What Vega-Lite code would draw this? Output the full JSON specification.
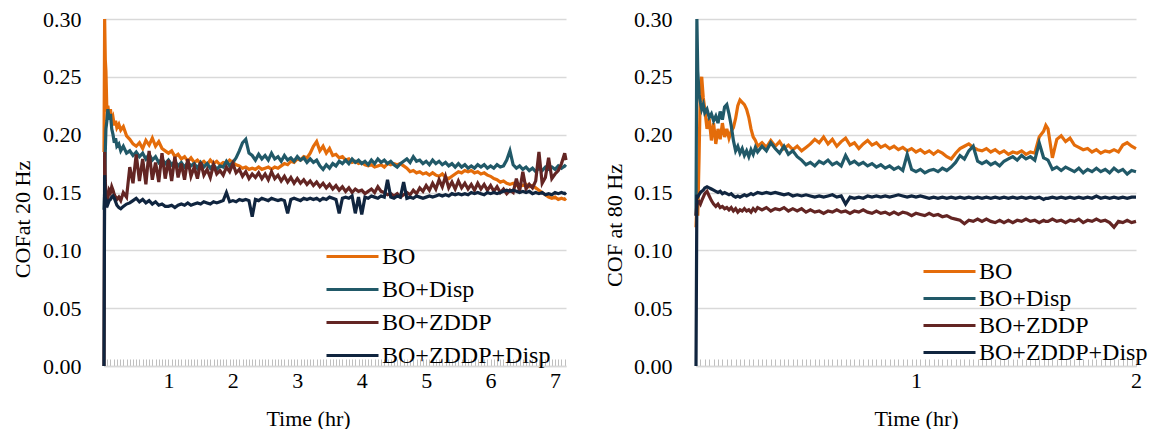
{
  "$schema": "https://vega.github.io/schema/vega-lite/v6.json",
  "padding": {"left": 11, "top": 8, "right": 0, "bottom": 0},
  "spacing": 30,
  "resolve": {"scale": {"color": "independent"}, "legend": {"color": "independent"}},
  "config": {
    "font": "Times New Roman, Liberation Serif, serif",
    "view": {"stroke": null},
    "axis": {
      "labelFont": "Times New Roman, Liberation Serif, serif",
      "titleFont": "Times New Roman, Liberation Serif, serif",
      "labelColor": "#000000",
      "titleColor": "#000000",
      "labelFontSize": 22,
      "titleFontSize": 22,
      "titleFontWeight": "normal"
    },
    "legend": {
      "labelFont": "Times New Roman, Liberation Serif, serif",
      "labelColor": "#000000",
      "labelFontSize": 24,
      "labelLimit": 400,
      "symbolType": "M-2,0H2",
      "symbolSize": 676,
      "symbolStrokeWidth": 3,
      "symbolOffset": 11,
      "labelOffset": 15,
      "padding": 0
    }
  },
  "datasets": {
    "hz20": [
      {"t": 0, "BO": 0.185, "BO+Disp": 0.135, "BO+ZDDP": 0.0, "BO+ZDDP+Disp": 0.0},
      {"t": 0.01, "BO": 0.300, "BO+Disp": 0.150, "BO+ZDDP": 0.185, "BO+ZDDP+Disp": 0.165},
      {"t": 0.02, "BO": 0.265, "BO+Disp": 0.185, "BO+ZDDP": 0.160, "BO+ZDDP+Disp": 0.140},
      {"t": 0.03, "BO": 0.255, "BO+Disp": 0.205, "BO+ZDDP": 0.150, "BO+ZDDP+Disp": 0.137},
      {"t": 0.045, "BO": 0.220, "BO+Disp": 0.212, "BO+ZDDP": 0.147, "BO+ZDDP+Disp": 0.142},
      {"t": 0.06, "BO": 0.225, "BO+Disp": 0.222, "BO+ZDDP": 0.145, "BO+ZDDP+Disp": 0.140},
      {"t": 0.08, "BO": 0.215, "BO+Disp": 0.213, "BO+ZDDP": 0.152, "BO+ZDDP+Disp": 0.143},
      {"t": 0.10, "BO": 0.222, "BO+Disp": 0.218, "BO+ZDDP": 0.150, "BO+ZDDP+Disp": 0.144},
      {"t": 0.12, "BO": 0.212, "BO+Disp": 0.205, "BO+ZDDP": 0.155, "BO+ZDDP+Disp": 0.146},
      {"t": 0.14, "BO": 0.215, "BO+Disp": 0.200, "BO+ZDDP": 0.152, "BO+ZDDP+Disp": 0.147},
      {"t": 0.16, "BO": 0.208, "BO+Disp": 0.193, "BO+ZDDP": 0.148, "BO+ZDDP+Disp": 0.145},
      {"t": 0.18, "BO": 0.212, "BO+Disp": 0.197, "BO+ZDDP": 0.146, "BO+ZDDP+Disp": 0.142},
      {"t": 0.20, "BO": 0.206, "BO+Disp": 0.190, "BO+ZDDP": 0.144, "BO+ZDDP+Disp": 0.139},
      {"t": 0.23, "BO": 0.209, "BO+Disp": 0.192, "BO+ZDDP": 0.146, "BO+ZDDP+Disp": 0.137},
      {"t": 0.26, "BO": 0.204, "BO+Disp": 0.186, "BO+ZDDP": 0.143, "BO+ZDDP+Disp": 0.136},
      {"t": 0.30, "BO": 0.207, "BO+Disp": 0.190, "BO+ZDDP": 0.150, "BO+ZDDP+Disp": 0.138},
      {"t": 0.35, "BO": 0.199, "BO+Disp": 0.184, "BO+ZDDP": 0.146, "BO+ZDDP+Disp": 0.140},
      {"t": 0.40, "BO": 0.196, "BO+Disp": 0.186, "BO+ZDDP": 0.172, "BO+ZDDP+Disp": 0.141},
      {"t": 0.45, "BO": 0.192, "BO+Disp": 0.182, "BO+ZDDP": 0.158, "BO+ZDDP+Disp": 0.143},
      {"t": 0.50, "BO": 0.190, "BO+Disp": 0.185, "BO+ZDDP": 0.183, "BO+ZDDP+Disp": 0.145},
      {"t": 0.55, "BO": 0.193, "BO+Disp": 0.181, "BO+ZDDP": 0.160, "BO+ZDDP+Disp": 0.142},
      {"t": 0.60, "BO": 0.188, "BO+Disp": 0.184, "BO+ZDDP": 0.179, "BO+ZDDP+Disp": 0.144},
      {"t": 0.65, "BO": 0.195, "BO+Disp": 0.179, "BO+ZDDP": 0.157, "BO+ZDDP+Disp": 0.141},
      {"t": 0.70, "BO": 0.191, "BO+Disp": 0.183, "BO+ZDDP": 0.186, "BO+ZDDP+Disp": 0.143},
      {"t": 0.75, "BO": 0.197, "BO+Disp": 0.178, "BO+ZDDP": 0.161, "BO+ZDDP+Disp": 0.140},
      {"t": 0.80, "BO": 0.190, "BO+Disp": 0.181, "BO+ZDDP": 0.176, "BO+ZDDP+Disp": 0.142},
      {"t": 0.85, "BO": 0.194, "BO+Disp": 0.176, "BO+ZDDP": 0.159, "BO+ZDDP+Disp": 0.139},
      {"t": 0.90, "BO": 0.188, "BO+Disp": 0.179, "BO+ZDDP": 0.184, "BO+ZDDP+Disp": 0.140},
      {"t": 0.95, "BO": 0.186, "BO+Disp": 0.175, "BO+ZDDP": 0.162, "BO+ZDDP+Disp": 0.138},
      {"t": 1.00, "BO": 0.184, "BO+Disp": 0.178, "BO+ZDDP": 0.178, "BO+ZDDP+Disp": 0.138},
      {"t": 1.05, "BO": 0.186, "BO+Disp": 0.174, "BO+ZDDP": 0.160, "BO+ZDDP+Disp": 0.139},
      {"t": 1.10, "BO": 0.181, "BO+Disp": 0.177, "BO+ZDDP": 0.181, "BO+ZDDP+Disp": 0.137},
      {"t": 1.15, "BO": 0.183, "BO+Disp": 0.173, "BO+ZDDP": 0.163, "BO+ZDDP+Disp": 0.139},
      {"t": 1.20, "BO": 0.179, "BO+Disp": 0.176, "BO+ZDDP": 0.175, "BO+ZDDP+Disp": 0.140},
      {"t": 1.25, "BO": 0.181, "BO+Disp": 0.172, "BO+ZDDP": 0.161, "BO+ZDDP+Disp": 0.139},
      {"t": 1.30, "BO": 0.177, "BO+Disp": 0.176, "BO+ZDDP": 0.179, "BO+ZDDP+Disp": 0.141},
      {"t": 1.35, "BO": 0.180, "BO+Disp": 0.173, "BO+ZDDP": 0.164, "BO+ZDDP+Disp": 0.139},
      {"t": 1.40, "BO": 0.176, "BO+Disp": 0.175, "BO+ZDDP": 0.172, "BO+ZDDP+Disp": 0.140},
      {"t": 1.45, "BO": 0.178, "BO+Disp": 0.171, "BO+ZDDP": 0.162, "BO+ZDDP+Disp": 0.141},
      {"t": 1.50, "BO": 0.175, "BO+Disp": 0.176, "BO+ZDDP": 0.176, "BO+ZDDP+Disp": 0.140},
      {"t": 1.55, "BO": 0.177, "BO+Disp": 0.172, "BO+ZDDP": 0.165, "BO+ZDDP+Disp": 0.142},
      {"t": 1.60, "BO": 0.174, "BO+Disp": 0.175, "BO+ZDDP": 0.170, "BO+ZDDP+Disp": 0.141},
      {"t": 1.65, "BO": 0.178, "BO+Disp": 0.171, "BO+ZDDP": 0.163, "BO+ZDDP+Disp": 0.140},
      {"t": 1.70, "BO": 0.175, "BO+Disp": 0.174, "BO+ZDDP": 0.174, "BO+ZDDP+Disp": 0.142},
      {"t": 1.75, "BO": 0.177, "BO+Disp": 0.170, "BO+ZDDP": 0.166, "BO+ZDDP+Disp": 0.141},
      {"t": 1.80, "BO": 0.174, "BO+Disp": 0.173, "BO+ZDDP": 0.169, "BO+ZDDP+Disp": 0.142},
      {"t": 1.85, "BO": 0.176, "BO+Disp": 0.172, "BO+ZDDP": 0.165, "BO+ZDDP+Disp": 0.143},
      {"t": 1.90, "BO": 0.175, "BO+Disp": 0.177, "BO+ZDDP": 0.172, "BO+ZDDP+Disp": 0.150},
      {"t": 1.95, "BO": 0.178, "BO+Disp": 0.173, "BO+ZDDP": 0.168, "BO+ZDDP+Disp": 0.142},
      {"t": 2.00, "BO": 0.176, "BO+Disp": 0.176, "BO+ZDDP": 0.175, "BO+ZDDP+Disp": 0.143},
      {"t": 2.05, "BO": 0.174, "BO+Disp": 0.180, "BO+ZDDP": 0.167, "BO+ZDDP+Disp": 0.142},
      {"t": 2.10, "BO": 0.173, "BO+Disp": 0.186, "BO+ZDDP": 0.170, "BO+ZDDP+Disp": 0.144},
      {"t": 2.15, "BO": 0.171, "BO+Disp": 0.193, "BO+ZDDP": 0.164, "BO+ZDDP+Disp": 0.143},
      {"t": 2.20, "BO": 0.172, "BO+Disp": 0.196, "BO+ZDDP": 0.168, "BO+ZDDP+Disp": 0.144},
      {"t": 2.25, "BO": 0.170, "BO+Disp": 0.184, "BO+ZDDP": 0.162, "BO+ZDDP+Disp": 0.143},
      {"t": 2.30, "BO": 0.171, "BO+Disp": 0.182, "BO+ZDDP": 0.166, "BO+ZDDP+Disp": 0.129},
      {"t": 2.35, "BO": 0.170, "BO+Disp": 0.178, "BO+ZDDP": 0.163, "BO+ZDDP+Disp": 0.144},
      {"t": 2.40, "BO": 0.172, "BO+Disp": 0.183, "BO+ZDDP": 0.167, "BO+ZDDP+Disp": 0.143},
      {"t": 2.45, "BO": 0.170, "BO+Disp": 0.179, "BO+ZDDP": 0.162, "BO+ZDDP+Disp": 0.145},
      {"t": 2.50, "BO": 0.171, "BO+Disp": 0.182, "BO+ZDDP": 0.166, "BO+ZDDP+Disp": 0.144},
      {"t": 2.55, "BO": 0.172, "BO+Disp": 0.178, "BO+ZDDP": 0.161, "BO+ZDDP+Disp": 0.143},
      {"t": 2.60, "BO": 0.170, "BO+Disp": 0.184, "BO+ZDDP": 0.168, "BO+ZDDP+Disp": 0.145},
      {"t": 2.65, "BO": 0.172, "BO+Disp": 0.179, "BO+ZDDP": 0.162, "BO+ZDDP+Disp": 0.144},
      {"t": 2.70, "BO": 0.171, "BO+Disp": 0.181, "BO+ZDDP": 0.165, "BO+ZDDP+Disp": 0.143},
      {"t": 2.75, "BO": 0.173, "BO+Disp": 0.177, "BO+ZDDP": 0.160, "BO+ZDDP+Disp": 0.144},
      {"t": 2.80, "BO": 0.175, "BO+Disp": 0.182, "BO+ZDDP": 0.164, "BO+ZDDP+Disp": 0.143},
      {"t": 2.85, "BO": 0.174, "BO+Disp": 0.178, "BO+ZDDP": 0.159, "BO+ZDDP+Disp": 0.132},
      {"t": 2.90, "BO": 0.177, "BO+Disp": 0.180, "BO+ZDDP": 0.163, "BO+ZDDP+Disp": 0.144},
      {"t": 2.95, "BO": 0.176, "BO+Disp": 0.177, "BO+ZDDP": 0.158, "BO+ZDDP+Disp": 0.145},
      {"t": 3.00, "BO": 0.179, "BO+Disp": 0.181, "BO+ZDDP": 0.162, "BO+ZDDP+Disp": 0.144},
      {"t": 3.05, "BO": 0.178, "BO+Disp": 0.178, "BO+ZDDP": 0.158, "BO+ZDDP+Disp": 0.143},
      {"t": 3.10, "BO": 0.181, "BO+Disp": 0.180, "BO+ZDDP": 0.161, "BO+ZDDP+Disp": 0.145},
      {"t": 3.15, "BO": 0.180, "BO+Disp": 0.176, "BO+ZDDP": 0.157, "BO+ZDDP+Disp": 0.144},
      {"t": 3.20, "BO": 0.184, "BO+Disp": 0.179, "BO+ZDDP": 0.160, "BO+ZDDP+Disp": 0.145},
      {"t": 3.25, "BO": 0.190, "BO+Disp": 0.176, "BO+ZDDP": 0.156, "BO+ZDDP+Disp": 0.144},
      {"t": 3.30, "BO": 0.194, "BO+Disp": 0.178, "BO+ZDDP": 0.159, "BO+ZDDP+Disp": 0.145},
      {"t": 3.35, "BO": 0.186, "BO+Disp": 0.173, "BO+ZDDP": 0.155, "BO+ZDDP+Disp": 0.143},
      {"t": 3.40, "BO": 0.190, "BO+Disp": 0.170, "BO+ZDDP": 0.158, "BO+ZDDP+Disp": 0.145},
      {"t": 3.45, "BO": 0.184, "BO+Disp": 0.174, "BO+ZDDP": 0.154, "BO+ZDDP+Disp": 0.144},
      {"t": 3.50, "BO": 0.188, "BO+Disp": 0.171, "BO+ZDDP": 0.157, "BO+ZDDP+Disp": 0.146},
      {"t": 3.55, "BO": 0.182, "BO+Disp": 0.175, "BO+ZDDP": 0.153, "BO+ZDDP+Disp": 0.145},
      {"t": 3.60, "BO": 0.183, "BO+Disp": 0.173, "BO+ZDDP": 0.156, "BO+ZDDP+Disp": 0.144},
      {"t": 3.65, "BO": 0.180, "BO+Disp": 0.177, "BO+ZDDP": 0.152, "BO+ZDDP+Disp": 0.132},
      {"t": 3.70, "BO": 0.181, "BO+Disp": 0.175, "BO+ZDDP": 0.155, "BO+ZDDP+Disp": 0.145},
      {"t": 3.75, "BO": 0.178, "BO+Disp": 0.178, "BO+ZDDP": 0.151, "BO+ZDDP+Disp": 0.146},
      {"t": 3.80, "BO": 0.179, "BO+Disp": 0.175, "BO+ZDDP": 0.154, "BO+ZDDP+Disp": 0.145},
      {"t": 3.85, "BO": 0.176, "BO+Disp": 0.179, "BO+ZDDP": 0.150, "BO+ZDDP+Disp": 0.147},
      {"t": 3.90, "BO": 0.177, "BO+Disp": 0.176, "BO+ZDDP": 0.153, "BO+ZDDP+Disp": 0.132},
      {"t": 3.95, "BO": 0.175, "BO+Disp": 0.178, "BO+ZDDP": 0.151, "BO+ZDDP+Disp": 0.146},
      {"t": 4.00, "BO": 0.176, "BO+Disp": 0.175, "BO+ZDDP": 0.152, "BO+ZDDP+Disp": 0.131},
      {"t": 4.05, "BO": 0.174, "BO+Disp": 0.177, "BO+ZDDP": 0.149, "BO+ZDDP+Disp": 0.146},
      {"t": 4.10, "BO": 0.173, "BO+Disp": 0.174, "BO+ZDDP": 0.151, "BO+ZDDP+Disp": 0.145},
      {"t": 4.15, "BO": 0.174, "BO+Disp": 0.178, "BO+ZDDP": 0.153, "BO+ZDDP+Disp": 0.147},
      {"t": 4.20, "BO": 0.172, "BO+Disp": 0.175, "BO+ZDDP": 0.150, "BO+ZDDP+Disp": 0.146},
      {"t": 4.25, "BO": 0.173, "BO+Disp": 0.179, "BO+ZDDP": 0.155, "BO+ZDDP+Disp": 0.145},
      {"t": 4.30, "BO": 0.174, "BO+Disp": 0.176, "BO+ZDDP": 0.151, "BO+ZDDP+Disp": 0.147},
      {"t": 4.35, "BO": 0.172, "BO+Disp": 0.178, "BO+ZDDP": 0.150, "BO+ZDDP+Disp": 0.146},
      {"t": 4.40, "BO": 0.175, "BO+Disp": 0.175, "BO+ZDDP": 0.148, "BO+ZDDP+Disp": 0.161},
      {"t": 4.45, "BO": 0.174, "BO+Disp": 0.177, "BO+ZDDP": 0.149, "BO+ZDDP+Disp": 0.146},
      {"t": 4.50, "BO": 0.175, "BO+Disp": 0.174, "BO+ZDDP": 0.147, "BO+ZDDP+Disp": 0.145},
      {"t": 4.55, "BO": 0.174, "BO+Disp": 0.172, "BO+ZDDP": 0.149, "BO+ZDDP+Disp": 0.147},
      {"t": 4.60, "BO": 0.175, "BO+Disp": 0.175, "BO+ZDDP": 0.146, "BO+ZDDP+Disp": 0.146},
      {"t": 4.65, "BO": 0.173, "BO+Disp": 0.177, "BO+ZDDP": 0.148, "BO+ZDDP+Disp": 0.159},
      {"t": 4.70, "BO": 0.171, "BO+Disp": 0.179, "BO+ZDDP": 0.150, "BO+ZDDP+Disp": 0.145},
      {"t": 4.75, "BO": 0.168, "BO+Disp": 0.176, "BO+ZDDP": 0.148, "BO+ZDDP+Disp": 0.146},
      {"t": 4.80, "BO": 0.169, "BO+Disp": 0.181, "BO+ZDDP": 0.152, "BO+ZDDP+Disp": 0.145},
      {"t": 4.85, "BO": 0.167, "BO+Disp": 0.177, "BO+ZDDP": 0.149, "BO+ZDDP+Disp": 0.147},
      {"t": 4.90, "BO": 0.168, "BO+Disp": 0.178, "BO+ZDDP": 0.154, "BO+ZDDP+Disp": 0.146},
      {"t": 4.95, "BO": 0.166, "BO+Disp": 0.175, "BO+ZDDP": 0.151, "BO+ZDDP+Disp": 0.145},
      {"t": 5.00, "BO": 0.167, "BO+Disp": 0.177, "BO+ZDDP": 0.156, "BO+ZDDP+Disp": 0.146},
      {"t": 5.05, "BO": 0.165, "BO+Disp": 0.174, "BO+ZDDP": 0.152, "BO+ZDDP+Disp": 0.147},
      {"t": 5.10, "BO": 0.167, "BO+Disp": 0.178, "BO+ZDDP": 0.158, "BO+ZDDP+Disp": 0.146},
      {"t": 5.15, "BO": 0.165, "BO+Disp": 0.175, "BO+ZDDP": 0.153, "BO+ZDDP+Disp": 0.147},
      {"t": 5.20, "BO": 0.164, "BO+Disp": 0.177, "BO+ZDDP": 0.161, "BO+ZDDP+Disp": 0.148},
      {"t": 5.25, "BO": 0.166, "BO+Disp": 0.174, "BO+ZDDP": 0.155, "BO+ZDDP+Disp": 0.147},
      {"t": 5.30, "BO": 0.163, "BO+Disp": 0.176, "BO+ZDDP": 0.164, "BO+ZDDP+Disp": 0.148},
      {"t": 5.35, "BO": 0.162, "BO+Disp": 0.173, "BO+ZDDP": 0.154, "BO+ZDDP+Disp": 0.147},
      {"t": 5.40, "BO": 0.164, "BO+Disp": 0.175, "BO+ZDDP": 0.159, "BO+ZDDP+Disp": 0.149},
      {"t": 5.45, "BO": 0.166, "BO+Disp": 0.172, "BO+ZDDP": 0.153, "BO+ZDDP+Disp": 0.148},
      {"t": 5.50, "BO": 0.168, "BO+Disp": 0.175, "BO+ZDDP": 0.160, "BO+ZDDP+Disp": 0.149},
      {"t": 5.55, "BO": 0.167, "BO+Disp": 0.172, "BO+ZDDP": 0.154, "BO+ZDDP+Disp": 0.148},
      {"t": 5.60, "BO": 0.169, "BO+Disp": 0.174, "BO+ZDDP": 0.158, "BO+ZDDP+Disp": 0.149},
      {"t": 5.65, "BO": 0.168, "BO+Disp": 0.171, "BO+ZDDP": 0.153, "BO+ZDDP+Disp": 0.148},
      {"t": 5.70, "BO": 0.169, "BO+Disp": 0.173, "BO+ZDDP": 0.157, "BO+ZDDP+Disp": 0.150},
      {"t": 5.75, "BO": 0.167, "BO+Disp": 0.171, "BO+ZDDP": 0.152, "BO+ZDDP+Disp": 0.149},
      {"t": 5.80, "BO": 0.168, "BO+Disp": 0.174, "BO+ZDDP": 0.158, "BO+ZDDP+Disp": 0.150},
      {"t": 5.85, "BO": 0.166, "BO+Disp": 0.172, "BO+ZDDP": 0.153, "BO+ZDDP+Disp": 0.149},
      {"t": 5.90, "BO": 0.167, "BO+Disp": 0.174, "BO+ZDDP": 0.157, "BO+ZDDP+Disp": 0.148},
      {"t": 5.95, "BO": 0.165, "BO+Disp": 0.171, "BO+ZDDP": 0.152, "BO+ZDDP+Disp": 0.150},
      {"t": 6.00, "BO": 0.164, "BO+Disp": 0.173, "BO+ZDDP": 0.156, "BO+ZDDP+Disp": 0.149},
      {"t": 6.05, "BO": 0.162, "BO+Disp": 0.171, "BO+ZDDP": 0.151, "BO+ZDDP+Disp": 0.150},
      {"t": 6.10, "BO": 0.161, "BO+Disp": 0.174, "BO+ZDDP": 0.155, "BO+ZDDP+Disp": 0.149},
      {"t": 6.15, "BO": 0.159, "BO+Disp": 0.172, "BO+ZDDP": 0.150, "BO+ZDDP+Disp": 0.150},
      {"t": 6.20, "BO": 0.160, "BO+Disp": 0.173, "BO+ZDDP": 0.153, "BO+ZDDP+Disp": 0.151},
      {"t": 6.25, "BO": 0.158, "BO+Disp": 0.178, "BO+ZDDP": 0.149, "BO+ZDDP+Disp": 0.152},
      {"t": 6.30, "BO": 0.157, "BO+Disp": 0.186, "BO+ZDDP": 0.152, "BO+ZDDP+Disp": 0.151},
      {"t": 6.35, "BO": 0.158, "BO+Disp": 0.174, "BO+ZDDP": 0.150, "BO+ZDDP+Disp": 0.152},
      {"t": 6.40, "BO": 0.156, "BO+Disp": 0.171, "BO+ZDDP": 0.162, "BO+ZDDP+Disp": 0.151},
      {"t": 6.45, "BO": 0.157, "BO+Disp": 0.173, "BO+ZDDP": 0.151, "BO+ZDDP+Disp": 0.150},
      {"t": 6.50, "BO": 0.156, "BO+Disp": 0.170, "BO+ZDDP": 0.168, "BO+ZDDP+Disp": 0.151},
      {"t": 6.55, "BO": 0.157, "BO+Disp": 0.172, "BO+ZDDP": 0.153, "BO+ZDDP+Disp": 0.150},
      {"t": 6.60, "BO": 0.155, "BO+Disp": 0.169, "BO+ZDDP": 0.157, "BO+ZDDP+Disp": 0.151},
      {"t": 6.65, "BO": 0.156, "BO+Disp": 0.171, "BO+ZDDP": 0.154, "BO+ZDDP+Disp": 0.149},
      {"t": 6.70, "BO": 0.154, "BO+Disp": 0.168, "BO+ZDDP": 0.160, "BO+ZDDP+Disp": 0.150},
      {"t": 6.75, "BO": 0.152, "BO+Disp": 0.171, "BO+ZDDP": 0.185, "BO+ZDDP+Disp": 0.149},
      {"t": 6.80, "BO": 0.150, "BO+Disp": 0.169, "BO+ZDDP": 0.158, "BO+ZDDP+Disp": 0.150},
      {"t": 6.85, "BO": 0.148, "BO+Disp": 0.172, "BO+ZDDP": 0.163, "BO+ZDDP+Disp": 0.148},
      {"t": 6.90, "BO": 0.146, "BO+Disp": 0.170, "BO+ZDDP": 0.180, "BO+ZDDP+Disp": 0.149},
      {"t": 6.95, "BO": 0.145, "BO+Disp": 0.172, "BO+ZDDP": 0.162, "BO+ZDDP+Disp": 0.148},
      {"t": 7.00, "BO": 0.146, "BO+Disp": 0.170, "BO+ZDDP": 0.166, "BO+ZDDP+Disp": 0.150},
      {"t": 7.05, "BO": 0.144, "BO+Disp": 0.173, "BO+ZDDP": 0.169, "BO+ZDDP+Disp": 0.149},
      {"t": 7.10, "BO": 0.145, "BO+Disp": 0.171, "BO+ZDDP": 0.175, "BO+ZDDP+Disp": 0.150},
      {"t": 7.15, "BO": 0.144, "BO+Disp": 0.173, "BO+ZDDP": 0.184, "BO+ZDDP+Disp": 0.149},
      {"t": 7.17, "BO": 0.145, "BO+Disp": 0.172, "BO+ZDDP": 0.178, "BO+ZDDP+Disp": 0.150}
    ],
    "hz80": [
      {"t": 0, "BO": 0.120, "BO+Disp": 0.130, "BO+ZDDP": 0.130, "BO+ZDDP+Disp": 0.0},
      {"t": 0.004, "BO": 0.140, "BO+Disp": 0.300, "BO+ZDDP": 0.140, "BO+ZDDP+Disp": 0.148},
      {"t": 0.008, "BO": 0.130, "BO+Disp": 0.255, "BO+ZDDP": 0.141, "BO+ZDDP+Disp": 0.146},
      {"t": 0.014, "BO": 0.180, "BO+Disp": 0.235, "BO+ZDDP": 0.142, "BO+ZDDP+Disp": 0.148},
      {"t": 0.02, "BO": 0.243, "BO+Disp": 0.228, "BO+ZDDP": 0.140, "BO+ZDDP+Disp": 0.150},
      {"t": 0.026, "BO": 0.250, "BO+Disp": 0.222, "BO+ZDDP": 0.143, "BO+ZDDP+Disp": 0.151},
      {"t": 0.033, "BO": 0.232, "BO+Disp": 0.226, "BO+ZDDP": 0.146, "BO+ZDDP+Disp": 0.152},
      {"t": 0.04, "BO": 0.222, "BO+Disp": 0.219, "BO+ZDDP": 0.149, "BO+ZDDP+Disp": 0.154},
      {"t": 0.05, "BO": 0.205, "BO+Disp": 0.222, "BO+ZDDP": 0.151, "BO+ZDDP+Disp": 0.155},
      {"t": 0.06, "BO": 0.214, "BO+Disp": 0.215, "BO+ZDDP": 0.147, "BO+ZDDP+Disp": 0.154},
      {"t": 0.07, "BO": 0.195, "BO+Disp": 0.218, "BO+ZDDP": 0.143, "BO+ZDDP+Disp": 0.153},
      {"t": 0.08, "BO": 0.210, "BO+Disp": 0.212, "BO+ZDDP": 0.140, "BO+ZDDP+Disp": 0.152},
      {"t": 0.09, "BO": 0.192, "BO+Disp": 0.216, "BO+ZDDP": 0.138, "BO+ZDDP+Disp": 0.151},
      {"t": 0.10, "BO": 0.205, "BO+Disp": 0.210, "BO+ZDDP": 0.140, "BO+ZDDP+Disp": 0.150},
      {"t": 0.11, "BO": 0.196, "BO+Disp": 0.220, "BO+ZDDP": 0.137, "BO+ZDDP+Disp": 0.151},
      {"t": 0.12, "BO": 0.210, "BO+Disp": 0.213, "BO+ZDDP": 0.138, "BO+ZDDP+Disp": 0.149},
      {"t": 0.13, "BO": 0.198, "BO+Disp": 0.224, "BO+ZDDP": 0.136, "BO+ZDDP+Disp": 0.150},
      {"t": 0.14, "BO": 0.205, "BO+Disp": 0.226, "BO+ZDDP": 0.137, "BO+ZDDP+Disp": 0.149},
      {"t": 0.15, "BO": 0.197, "BO+Disp": 0.218, "BO+ZDDP": 0.135, "BO+ZDDP+Disp": 0.148},
      {"t": 0.16, "BO": 0.203, "BO+Disp": 0.208, "BO+ZDDP": 0.137, "BO+ZDDP+Disp": 0.149},
      {"t": 0.17, "BO": 0.206, "BO+Disp": 0.195, "BO+ZDDP": 0.134, "BO+ZDDP+Disp": 0.147},
      {"t": 0.18, "BO": 0.214, "BO+Disp": 0.186, "BO+ZDDP": 0.136, "BO+ZDDP+Disp": 0.146},
      {"t": 0.19, "BO": 0.225, "BO+Disp": 0.190, "BO+ZDDP": 0.133, "BO+ZDDP+Disp": 0.147},
      {"t": 0.20, "BO": 0.230, "BO+Disp": 0.184, "BO+ZDDP": 0.135, "BO+ZDDP+Disp": 0.146},
      {"t": 0.21, "BO": 0.228, "BO+Disp": 0.188, "BO+ZDDP": 0.134, "BO+ZDDP+Disp": 0.147},
      {"t": 0.22, "BO": 0.226, "BO+Disp": 0.182, "BO+ZDDP": 0.136, "BO+ZDDP+Disp": 0.148},
      {"t": 0.23, "BO": 0.222, "BO+Disp": 0.186, "BO+ZDDP": 0.134, "BO+ZDDP+Disp": 0.147},
      {"t": 0.24, "BO": 0.215, "BO+Disp": 0.181, "BO+ZDDP": 0.135, "BO+ZDDP+Disp": 0.148},
      {"t": 0.25, "BO": 0.205, "BO+Disp": 0.187, "BO+ZDDP": 0.133, "BO+ZDDP+Disp": 0.149},
      {"t": 0.26, "BO": 0.198, "BO+Disp": 0.183, "BO+ZDDP": 0.136, "BO+ZDDP+Disp": 0.148},
      {"t": 0.27, "BO": 0.195, "BO+Disp": 0.189, "BO+ZDDP": 0.134, "BO+ZDDP+Disp": 0.149},
      {"t": 0.28, "BO": 0.190, "BO+Disp": 0.185, "BO+ZDDP": 0.137, "BO+ZDDP+Disp": 0.150},
      {"t": 0.30, "BO": 0.193, "BO+Disp": 0.190, "BO+ZDDP": 0.135, "BO+ZDDP+Disp": 0.149},
      {"t": 0.32, "BO": 0.189, "BO+Disp": 0.186, "BO+ZDDP": 0.137, "BO+ZDDP+Disp": 0.150},
      {"t": 0.34, "BO": 0.195, "BO+Disp": 0.193, "BO+ZDDP": 0.134, "BO+ZDDP+Disp": 0.149},
      {"t": 0.36, "BO": 0.190, "BO+Disp": 0.188, "BO+ZDDP": 0.136, "BO+ZDDP+Disp": 0.150},
      {"t": 0.38, "BO": 0.194, "BO+Disp": 0.184, "BO+ZDDP": 0.135, "BO+ZDDP+Disp": 0.149},
      {"t": 0.40, "BO": 0.188, "BO+Disp": 0.190, "BO+ZDDP": 0.137, "BO+ZDDP+Disp": 0.148},
      {"t": 0.42, "BO": 0.191, "BO+Disp": 0.183, "BO+ZDDP": 0.134, "BO+ZDDP+Disp": 0.149},
      {"t": 0.44, "BO": 0.187, "BO+Disp": 0.186, "BO+ZDDP": 0.136, "BO+ZDDP+Disp": 0.147},
      {"t": 0.46, "BO": 0.190, "BO+Disp": 0.181, "BO+ZDDP": 0.134, "BO+ZDDP+Disp": 0.148},
      {"t": 0.48, "BO": 0.186, "BO+Disp": 0.178, "BO+ZDDP": 0.136, "BO+ZDDP+Disp": 0.147},
      {"t": 0.50, "BO": 0.189, "BO+Disp": 0.174, "BO+ZDDP": 0.133, "BO+ZDDP+Disp": 0.148},
      {"t": 0.52, "BO": 0.192, "BO+Disp": 0.176, "BO+ZDDP": 0.135, "BO+ZDDP+Disp": 0.147},
      {"t": 0.54, "BO": 0.196, "BO+Disp": 0.173, "BO+ZDDP": 0.133, "BO+ZDDP+Disp": 0.146},
      {"t": 0.56, "BO": 0.193, "BO+Disp": 0.177, "BO+ZDDP": 0.134, "BO+ZDDP+Disp": 0.147},
      {"t": 0.58, "BO": 0.198, "BO+Disp": 0.175, "BO+ZDDP": 0.132, "BO+ZDDP+Disp": 0.146},
      {"t": 0.60, "BO": 0.192, "BO+Disp": 0.178, "BO+ZDDP": 0.134, "BO+ZDDP+Disp": 0.147},
      {"t": 0.62, "BO": 0.196, "BO+Disp": 0.174, "BO+ZDDP": 0.133, "BO+ZDDP+Disp": 0.148},
      {"t": 0.64, "BO": 0.190, "BO+Disp": 0.176, "BO+ZDDP": 0.135, "BO+ZDDP+Disp": 0.146},
      {"t": 0.66, "BO": 0.194, "BO+Disp": 0.173, "BO+ZDDP": 0.133, "BO+ZDDP+Disp": 0.147},
      {"t": 0.68, "BO": 0.197, "BO+Disp": 0.182, "BO+ZDDP": 0.134, "BO+ZDDP+Disp": 0.140},
      {"t": 0.70, "BO": 0.191, "BO+Disp": 0.175, "BO+ZDDP": 0.132, "BO+ZDDP+Disp": 0.146},
      {"t": 0.72, "BO": 0.193, "BO+Disp": 0.177, "BO+ZDDP": 0.134, "BO+ZDDP+Disp": 0.145},
      {"t": 0.74, "BO": 0.188, "BO+Disp": 0.174, "BO+ZDDP": 0.133, "BO+ZDDP+Disp": 0.146},
      {"t": 0.76, "BO": 0.192, "BO+Disp": 0.176, "BO+ZDDP": 0.135, "BO+ZDDP+Disp": 0.145},
      {"t": 0.78, "BO": 0.195, "BO+Disp": 0.173, "BO+ZDDP": 0.133, "BO+ZDDP+Disp": 0.147},
      {"t": 0.80, "BO": 0.191, "BO+Disp": 0.175, "BO+ZDDP": 0.132, "BO+ZDDP+Disp": 0.146},
      {"t": 0.82, "BO": 0.193, "BO+Disp": 0.172, "BO+ZDDP": 0.134, "BO+ZDDP+Disp": 0.147},
      {"t": 0.84, "BO": 0.189, "BO+Disp": 0.174, "BO+ZDDP": 0.132, "BO+ZDDP+Disp": 0.146},
      {"t": 0.86, "BO": 0.191, "BO+Disp": 0.171, "BO+ZDDP": 0.133, "BO+ZDDP+Disp": 0.147},
      {"t": 0.88, "BO": 0.188, "BO+Disp": 0.173, "BO+ZDDP": 0.131, "BO+ZDDP+Disp": 0.146},
      {"t": 0.90, "BO": 0.190, "BO+Disp": 0.170, "BO+ZDDP": 0.133, "BO+ZDDP+Disp": 0.147},
      {"t": 0.92, "BO": 0.187, "BO+Disp": 0.172, "BO+ZDDP": 0.131, "BO+ZDDP+Disp": 0.148},
      {"t": 0.94, "BO": 0.189, "BO+Disp": 0.169, "BO+ZDDP": 0.133, "BO+ZDDP+Disp": 0.147},
      {"t": 0.96, "BO": 0.186, "BO+Disp": 0.183, "BO+ZDDP": 0.132, "BO+ZDDP+Disp": 0.146},
      {"t": 0.98, "BO": 0.188, "BO+Disp": 0.170, "BO+ZDDP": 0.130, "BO+ZDDP+Disp": 0.147},
      {"t": 1.00, "BO": 0.185, "BO+Disp": 0.168, "BO+ZDDP": 0.132, "BO+ZDDP+Disp": 0.146},
      {"t": 1.02, "BO": 0.187, "BO+Disp": 0.170, "BO+ZDDP": 0.131, "BO+ZDDP+Disp": 0.147},
      {"t": 1.04, "BO": 0.184, "BO+Disp": 0.167, "BO+ZDDP": 0.130, "BO+ZDDP+Disp": 0.146},
      {"t": 1.06, "BO": 0.186, "BO+Disp": 0.169, "BO+ZDDP": 0.132, "BO+ZDDP+Disp": 0.145},
      {"t": 1.08, "BO": 0.183, "BO+Disp": 0.170, "BO+ZDDP": 0.130, "BO+ZDDP+Disp": 0.146},
      {"t": 1.10, "BO": 0.186, "BO+Disp": 0.168, "BO+ZDDP": 0.131, "BO+ZDDP+Disp": 0.145},
      {"t": 1.12, "BO": 0.184, "BO+Disp": 0.171, "BO+ZDDP": 0.129, "BO+ZDDP+Disp": 0.146},
      {"t": 1.14, "BO": 0.181, "BO+Disp": 0.169, "BO+ZDDP": 0.130, "BO+ZDDP+Disp": 0.145},
      {"t": 1.16, "BO": 0.179, "BO+Disp": 0.172, "BO+ZDDP": 0.128, "BO+ZDDP+Disp": 0.146},
      {"t": 1.18, "BO": 0.184, "BO+Disp": 0.176, "BO+ZDDP": 0.127, "BO+ZDDP+Disp": 0.145},
      {"t": 1.20, "BO": 0.188, "BO+Disp": 0.182, "BO+ZDDP": 0.126, "BO+ZDDP+Disp": 0.146},
      {"t": 1.22, "BO": 0.190, "BO+Disp": 0.179, "BO+ZDDP": 0.123, "BO+ZDDP+Disp": 0.145},
      {"t": 1.24, "BO": 0.192, "BO+Disp": 0.186, "BO+ZDDP": 0.126, "BO+ZDDP+Disp": 0.146},
      {"t": 1.26, "BO": 0.189, "BO+Disp": 0.190, "BO+ZDDP": 0.125, "BO+ZDDP+Disp": 0.145},
      {"t": 1.28, "BO": 0.187, "BO+Disp": 0.177, "BO+ZDDP": 0.127, "BO+ZDDP+Disp": 0.146},
      {"t": 1.30, "BO": 0.186, "BO+Disp": 0.175, "BO+ZDDP": 0.125, "BO+ZDDP+Disp": 0.145},
      {"t": 1.32, "BO": 0.188, "BO+Disp": 0.177, "BO+ZDDP": 0.127, "BO+ZDDP+Disp": 0.146},
      {"t": 1.34, "BO": 0.185, "BO+Disp": 0.174, "BO+ZDDP": 0.125, "BO+ZDDP+Disp": 0.145},
      {"t": 1.36, "BO": 0.187, "BO+Disp": 0.176, "BO+ZDDP": 0.124, "BO+ZDDP+Disp": 0.146},
      {"t": 1.38, "BO": 0.184, "BO+Disp": 0.173, "BO+ZDDP": 0.126, "BO+ZDDP+Disp": 0.145},
      {"t": 1.40, "BO": 0.186, "BO+Disp": 0.177, "BO+ZDDP": 0.124, "BO+ZDDP+Disp": 0.146},
      {"t": 1.42, "BO": 0.183, "BO+Disp": 0.179, "BO+ZDDP": 0.126, "BO+ZDDP+Disp": 0.145},
      {"t": 1.44, "BO": 0.185, "BO+Disp": 0.181, "BO+ZDDP": 0.124, "BO+ZDDP+Disp": 0.146},
      {"t": 1.46, "BO": 0.184, "BO+Disp": 0.178, "BO+ZDDP": 0.126, "BO+ZDDP+Disp": 0.145},
      {"t": 1.48, "BO": 0.186, "BO+Disp": 0.182, "BO+ZDDP": 0.125, "BO+ZDDP+Disp": 0.146},
      {"t": 1.50, "BO": 0.183, "BO+Disp": 0.179, "BO+ZDDP": 0.127, "BO+ZDDP+Disp": 0.145},
      {"t": 1.52, "BO": 0.185, "BO+Disp": 0.181, "BO+ZDDP": 0.125, "BO+ZDDP+Disp": 0.146},
      {"t": 1.54, "BO": 0.184, "BO+Disp": 0.178, "BO+ZDDP": 0.126, "BO+ZDDP+Disp": 0.145},
      {"t": 1.56, "BO": 0.198, "BO+Disp": 0.193, "BO+ZDDP": 0.124, "BO+ZDDP+Disp": 0.146},
      {"t": 1.58, "BO": 0.203, "BO+Disp": 0.180, "BO+ZDDP": 0.126, "BO+ZDDP+Disp": 0.144},
      {"t": 1.59, "BO": 0.208, "BO+Disp": 0.179, "BO+ZDDP": 0.125, "BO+ZDDP+Disp": 0.145},
      {"t": 1.60, "BO": 0.205, "BO+Disp": 0.178, "BO+ZDDP": 0.125, "BO+ZDDP+Disp": 0.145},
      {"t": 1.62, "BO": 0.180, "BO+Disp": 0.170, "BO+ZDDP": 0.127, "BO+ZDDP+Disp": 0.146},
      {"t": 1.64, "BO": 0.196, "BO+Disp": 0.172, "BO+ZDDP": 0.125, "BO+ZDDP+Disp": 0.145},
      {"t": 1.66, "BO": 0.199, "BO+Disp": 0.169, "BO+ZDDP": 0.126, "BO+ZDDP+Disp": 0.146},
      {"t": 1.68, "BO": 0.194, "BO+Disp": 0.172, "BO+ZDDP": 0.124, "BO+ZDDP+Disp": 0.145},
      {"t": 1.70, "BO": 0.197, "BO+Disp": 0.170, "BO+ZDDP": 0.126, "BO+ZDDP+Disp": 0.146},
      {"t": 1.72, "BO": 0.191, "BO+Disp": 0.168, "BO+ZDDP": 0.125, "BO+ZDDP+Disp": 0.145},
      {"t": 1.74, "BO": 0.189, "BO+Disp": 0.171, "BO+ZDDP": 0.127, "BO+ZDDP+Disp": 0.146},
      {"t": 1.76, "BO": 0.187, "BO+Disp": 0.167, "BO+ZDDP": 0.124, "BO+ZDDP+Disp": 0.145},
      {"t": 1.78, "BO": 0.188, "BO+Disp": 0.170, "BO+ZDDP": 0.126, "BO+ZDDP+Disp": 0.146},
      {"t": 1.80, "BO": 0.185, "BO+Disp": 0.168, "BO+ZDDP": 0.125, "BO+ZDDP+Disp": 0.145},
      {"t": 1.82, "BO": 0.187, "BO+Disp": 0.171, "BO+ZDDP": 0.127, "BO+ZDDP+Disp": 0.147},
      {"t": 1.84, "BO": 0.184, "BO+Disp": 0.168, "BO+ZDDP": 0.125, "BO+ZDDP+Disp": 0.145},
      {"t": 1.86, "BO": 0.186, "BO+Disp": 0.170, "BO+ZDDP": 0.126, "BO+ZDDP+Disp": 0.146},
      {"t": 1.88, "BO": 0.185, "BO+Disp": 0.167, "BO+ZDDP": 0.124, "BO+ZDDP+Disp": 0.145},
      {"t": 1.90, "BO": 0.187, "BO+Disp": 0.171, "BO+ZDDP": 0.120, "BO+ZDDP+Disp": 0.146},
      {"t": 1.92, "BO": 0.185, "BO+Disp": 0.168, "BO+ZDDP": 0.125, "BO+ZDDP+Disp": 0.145},
      {"t": 1.94, "BO": 0.191, "BO+Disp": 0.170, "BO+ZDDP": 0.124, "BO+ZDDP+Disp": 0.146},
      {"t": 1.96, "BO": 0.193, "BO+Disp": 0.166, "BO+ZDDP": 0.126, "BO+ZDDP+Disp": 0.145},
      {"t": 1.98, "BO": 0.190, "BO+Disp": 0.169, "BO+ZDDP": 0.124, "BO+ZDDP+Disp": 0.146},
      {"t": 2.00, "BO": 0.188, "BO+Disp": 0.168, "BO+ZDDP": 0.125, "BO+ZDDP+Disp": 0.146}
    ]
  },
  "hconcat": [
    {
      "width": 462,
      "height": 347,
      "data": {"name": "hz20"},
      "transform": [
        {"fold": ["BO", "BO+Disp", "BO+ZDDP", "BO+ZDDP+Disp"], "as": ["blend", "cof"]}
      ],
      "mark": {"type": "line", "strokeWidth": 3.2},
      "encoding": {
        "x": {
          "field": "t",
          "type": "quantitative",
          "scale": {"domain": [0, 7.17], "nice": false, "zero": true},
          "axis": {
            "title": "Time (hr)",
            "tickCount": 150,
            "labelExpr": "datum.value > 0 && datum.value % 1 === 0 ? '' + datum.value : ''",
            "labelOverlap": false,
            "labelFlush": false,
            "labelBound": false,
            "grid": false,
            "domainColor": "#d9d9d9",
            "domainWidth": 1.5,
            "tickColor": "#bfbfbf",
            "tickWidth": 1,
            "tickSize": -7,
            "labelPadding": 11,
            "titlePadding": 17,
            "titleX": 204
          }
        },
        "y": {
          "field": "cof",
          "type": "quantitative",
          "scale": {"domain": [0, 0.3], "nice": false},
          "axis": {
            "title": "COFat 20 Hz",
            "values": [0, 0.05, 0.1, 0.15, 0.2, 0.25, 0.3],
            "format": ".2f",
            "domain": false,
            "ticks": false,
            "tickSize": 0,
            "gridColor": "#d9d9d9",
            "gridWidth": 1.5,
            "labelPadding": 23,
            "titlePadding": 8,
            "titleY": 200
          }
        },
        "color": {
          "field": "blend",
          "type": "nominal",
          "scale": {
            "domain": ["BO", "BO+Disp", "BO+ZDDP", "BO+ZDDP+Disp"],
            "range": ["#E46C0A", "#215968", "#632523", "#10253F"]
          },
          "legend": {
            "title": null,
            "orient": "none",
            "legendX": 223,
            "legendY": 223,
            "rowPadding": 6
          }
        }
      }
    },
    {
      "width": 440,
      "height": 347,
      "data": {"name": "hz80"},
      "transform": [
        {"fold": ["BO", "BO+Disp", "BO+ZDDP", "BO+ZDDP+Disp"], "as": ["blend", "cof"]}
      ],
      "mark": {"type": "line", "strokeWidth": 3.2},
      "encoding": {
        "x": {
          "field": "t",
          "type": "quantitative",
          "scale": {"domain": [0, 2], "nice": false, "zero": true},
          "axis": {
            "title": "Time (hr)",
            "tickCount": 125,
            "labelExpr": "datum.value > 0 && datum.value % 1 === 0 ? '' + datum.value : ''",
            "labelOverlap": false,
            "labelFlush": false,
            "labelBound": false,
            "grid": false,
            "domainColor": "#d9d9d9",
            "domainWidth": 1.5,
            "tickColor": "#bfbfbf",
            "tickWidth": 1,
            "tickSize": -7,
            "labelPadding": 11,
            "titlePadding": 17
          }
        },
        "y": {
          "field": "cof",
          "type": "quantitative",
          "scale": {"domain": [0, 0.3], "nice": false},
          "axis": {
            "title": "COF at 80 Hz",
            "values": [0, 0.05, 0.1, 0.15, 0.2, 0.25, 0.3],
            "format": ".2f",
            "domain": false,
            "ticks": false,
            "tickSize": 0,
            "gridColor": "#d9d9d9",
            "gridWidth": 1.5,
            "labelPadding": 24,
            "titlePadding": 7,
            "titleY": 206
          }
        },
        "color": {
          "field": "blend",
          "type": "nominal",
          "scale": {
            "domain": ["BO", "BO+Disp", "BO+ZDDP", "BO+ZDDP+Disp"],
            "range": ["#E46C0A", "#215968", "#632523", "#10253F"]
          },
          "legend": {
            "title": null,
            "orient": "none",
            "legendX": 228,
            "legendY": 238,
            "rowPadding": 0
          }
        }
      }
    }
  ]
}
